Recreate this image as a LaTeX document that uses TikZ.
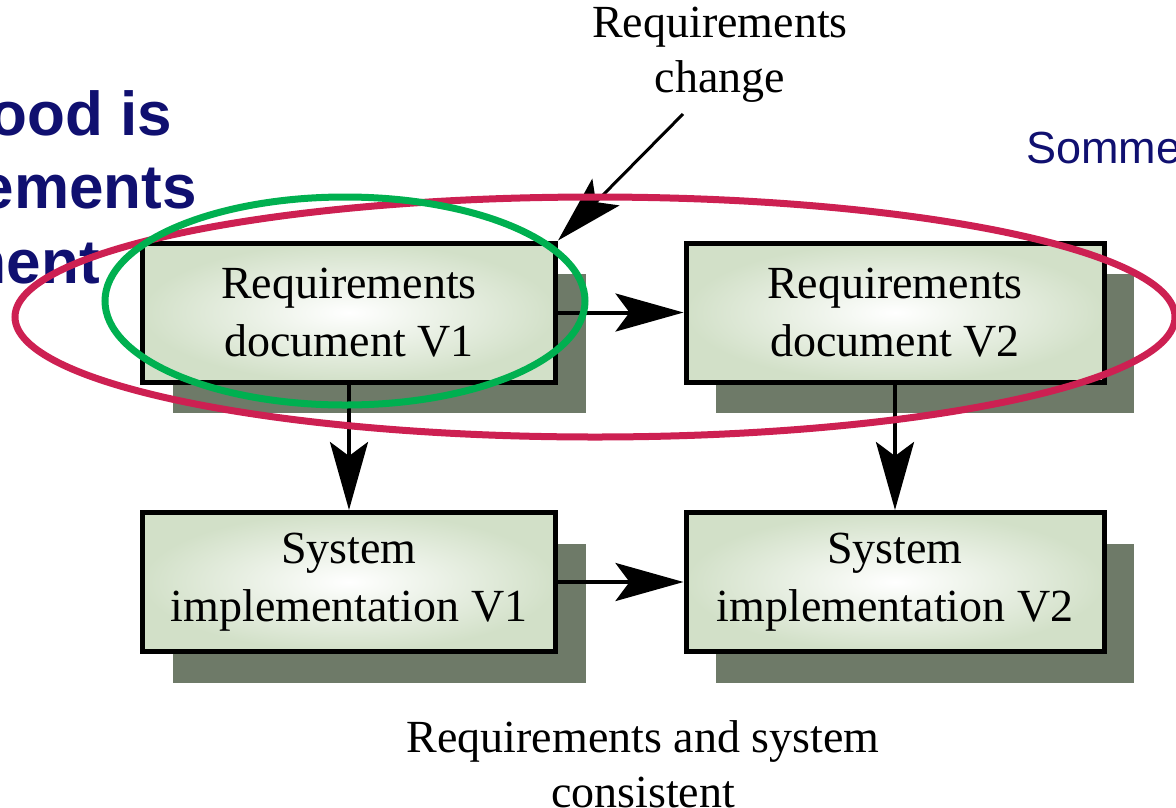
\documentclass[tikz,border=0pt]{standalone}
\usepackage{fontspec}
\setmainfont{Liberation Serif}
\newfontfamily\slidefont{Liberation Sans}
\usetikzlibrary{arrows.meta,shadows}
\definecolor{boxgreen}{RGB}{210,224,200}
\definecolor{shadowgray}{RGB}{110,122,104}
\definecolor{slidenavy}{RGB}{16,16,112}
\definecolor{ringred}{RGB}{205,32,82}
\definecolor{ringgreen}{RGB}{0,176,80}
\begin{document}
\begin{tikzpicture}[x=1pt,y=-1pt,
  docbox/.style={draw=black, line width=5pt, inner color=white, outer color=boxgreen,
    minimum height=139pt, inner sep=0pt, align=center,
    font=\fontsize{46}{58}\selectfont,
    general shadow={fill=shadowgray, shadow xshift=30pt, shadow yshift=-31pt}},
  flow/.style={line width=4pt, -{Stealth[length=68pt,width=38pt,inset=14pt]}},
  caption/.style={align=center, font=\fontsize{46}{55}\selectfont},
  slidetext/.style={text=slidenavy, inner sep=0pt},
  ring/.style={line width=7pt}]
\useasboundingbox (0,0) rectangle (1176,807);
\clip (0,0) rectangle (1176,807);

% slide text partly hidden at the edges
\node[slidetext, anchor=base east, font=\slidefont\bfseries\fontsize{62}{74}\selectfont] (t1) at (172,135) {ood is};
\node[slidetext, anchor=base east, font=\slidefont\bfseries\fontsize{62}{74}\selectfont] (t2) at (197,208) {ements};
\node[slidetext, anchor=base east, font=\slidefont\bfseries\fontsize{62}{74}\selectfont] (t3) at (100,283) {ment};
\node[slidetext, anchor=base west, font=\slidefont\fontsize{45}{54}\selectfont] (src) at (1026,163) {Somme};

% documents and implementations
\node[docbox, minimum width=413pt] (rd1) at (349,312.5) {Requirements\\document V1};
\node[docbox, minimum width=418pt] (rd2) at (895,312.5) {Requirements\\document V2};
\node[docbox, minimum width=413pt] (si1) at (349,582) {System\\implementation V1};
\node[docbox, minimum width=418pt] (si2) at (895,582) {System\\implementation V2};

% captions
\node[caption] (chg) at (720,55) {Requirements\\change};
\node[caption] (cons) at (643,764) {Requirements and system\\consistent};
\coordinate (chgtail) at (683,114);

% connectors
\draw[flow] (rd1.east) -- (rd2.west);
\draw[flow] (si1.east) -- (si2.west);
\draw[flow] (rd1.south) -- (si1.north);
\draw[flow] (rd2.south) -- (si2.north);
\draw[flow, line width=3pt] (chgtail) -- (rd1.north east);

% highlight rings
\draw[ring, draw=ringred] (595,317) ellipse [x radius=580, y radius=120];
\draw[ring, draw=ringgreen] (345,301) ellipse [x radius=240, y radius=104];
\end{tikzpicture}
\end{document}
